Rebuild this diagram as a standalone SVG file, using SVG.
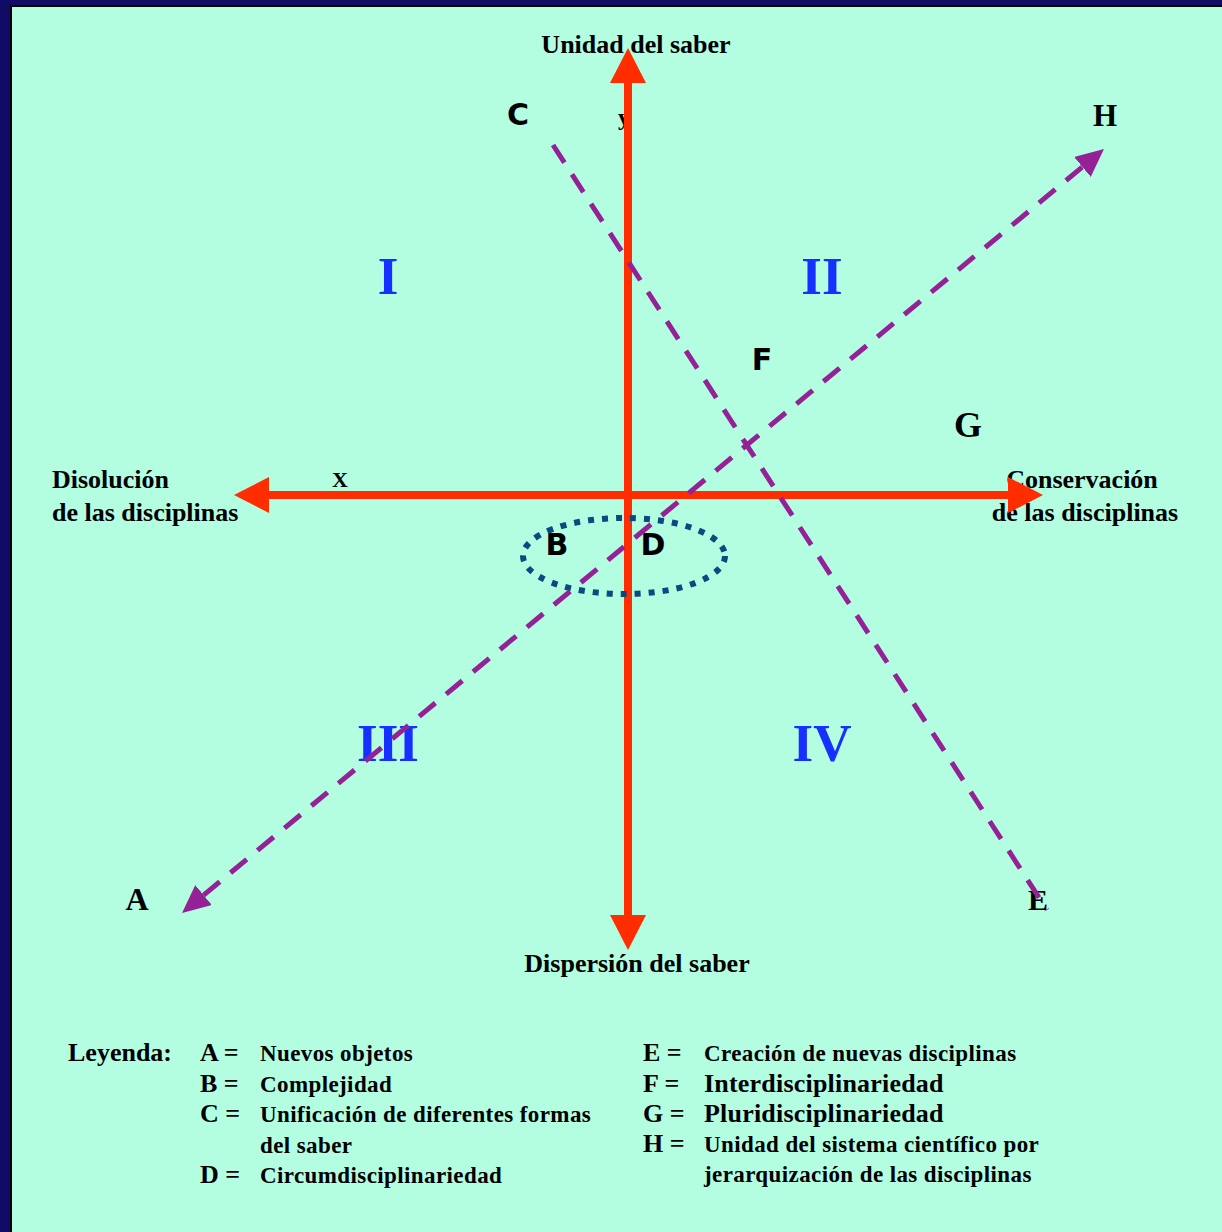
<svg xmlns="http://www.w3.org/2000/svg" width="1222" height="1232" viewBox="0 0 1222 1232">
<defs>
<style>
.lab{font-family:"Liberation Serif","Times New Roman",serif;font-weight:bold;fill:#000}
.ax{font-size:26px}
.leg{font-size:23px;letter-spacing:0.4px}
.key{font-size:26px}
.legb{font-size:26px;letter-spacing:0.2px}
.sans{font-family:"DejaVu Sans",Verdana,sans-serif;font-weight:bold;font-size:30px;fill:#000}
.ser{font-family:"Liberation Serif","Times New Roman",serif;font-weight:bold;fill:#000}
.roman{font-family:"Liberation Serif","Times New Roman",serif;font-weight:bold;font-size:53px;fill:#1630ff;text-anchor:middle}
.axis{stroke:#ff2d00;stroke-width:8;fill:none}
.dash{stroke:#952196;stroke-width:5;fill:none;stroke-dasharray:21 14}
</style>
<marker id="redArrow" viewBox="0 0 35 36" refX="0" refY="18" markerWidth="35" markerHeight="36" markerUnits="userSpaceOnUse" orient="auto-start-reverse">
<path d="M0,0 L35,18 L0,36 z" fill="#ff2d00"/>
</marker>
<marker id="purpleArrow" viewBox="0 0 28 26" refX="0" refY="13" markerWidth="28" markerHeight="26" markerUnits="userSpaceOnUse" orient="auto-start-reverse">
<path d="M0,0 L28,13 L0,26 z" fill="#952196"/>
</marker>
</defs>
<rect x="0" y="0" width="1222" height="1232" fill="#100c66"/>
<rect x="10" y="5" width="1212" height="1227" fill="#000"/>
<rect x="12" y="7" width="1210" height="1225" fill="#b3fde0"/>

<g id="axis-labels">
<text class="lab ax" x="636" y="53" text-anchor="middle">Unidad del saber</text>
<text class="lab ax" x="637" y="972" text-anchor="middle">Dispersión del saber</text>
<text class="lab ax" x="52" y="488">Disolución</text>
<text class="lab ax" x="52" y="521">de las disciplinas</text>
<text class="lab ax" x="1082" y="488" text-anchor="middle">Conservación</text>
<text class="lab ax" x="1085" y="521" text-anchor="middle">de las disciplinas</text>
<text class="lab" x="340" y="487" font-size="22" text-anchor="middle">X</text>
<text class="lab" x="624" y="125" font-size="24" text-anchor="middle">y</text>
</g>

<g id="quadrants">
<text class="roman" x="388" y="294">I</text>
<text class="roman" x="822" y="294">II</text>
<text class="roman" x="388" y="761">III</text>
<text class="roman" x="822" y="761">IV</text>
</g>

<g id="points">
<text id="pA" class="ser" x="137" y="910" font-size="32" text-anchor="middle">A</text>
<text id="pB" class="sans" x="557" y="555" text-anchor="middle">B</text>
<text id="pC" class="sans" x="518" y="125" text-anchor="middle">C</text>
<text id="pD" class="sans" x="653" y="555" text-anchor="middle">D</text>
<text id="pE" class="ser" x="1038" y="910" font-size="30" text-anchor="middle">E</text>
<text id="pF" class="sans" x="762" y="370" text-anchor="middle">F</text>
<text id="pG" class="ser" x="968" y="437" font-size="36" text-anchor="middle">G</text>
<text id="pH" class="ser" x="1105" y="126" font-size="31" text-anchor="middle">H</text>
</g>

<g id="connectors">
<line class="axis" x1="628" y1="915" x2="628" y2="83" marker-start="url(#redArrow)" marker-end="url(#redArrow)"/>
<line class="axis" x1="269" y1="495" x2="1008" y2="495" marker-start="url(#redArrow)" marker-end="url(#redArrow)"/>
<ellipse id="circum" cx="624" cy="556" rx="101" ry="38" fill="none" stroke="#0b4a80" stroke-width="6" stroke-dasharray="6 8"/>
<line class="dash" x1="553" y1="145" x2="1047" y2="910"/>
<line class="dash" x1="203.6" y1="895.1" x2="1082.4" y2="166.9" marker-start="url(#purpleArrow)" marker-end="url(#purpleArrow)"/>
</g>

<g id="legend">
<text class="lab" x="68" y="1061" font-size="26">Leyenda:</text>
<text class="lab key" x="200" y="1061">A =</text>
<text class="lab leg" x="260" y="1061">Nuevos objetos</text>
<text class="lab key" x="200" y="1092">B =</text>
<text class="lab leg" x="260" y="1092">Complejidad</text>
<text class="lab key" x="200" y="1122">C =</text>
<text class="lab leg" x="260" y="1122">Unificación de diferentes formas</text>
<text class="lab leg" x="260" y="1153">del saber</text>
<text class="lab key" x="200" y="1183">D =</text>
<text class="lab leg" x="260" y="1183">Circumdisciplinariedad</text>
<text class="lab key" x="643" y="1061">E =</text>
<text class="lab leg" x="704" y="1061" letter-spacing="0.1">Creación de nuevas disciplinas</text>
<text class="lab key" x="643" y="1092">F =</text>
<text class="lab legb" x="704" y="1092">Interdisciplinariedad</text>
<text class="lab key" x="643" y="1122">G =</text>
<text class="lab legb" x="704" y="1122">Pluridisciplinariedad</text>
<text class="lab key" x="643" y="1152">H =</text>
<text class="lab leg" x="704" y="1152" letter-spacing="0.2">Unidad del sistema científico por</text>
<text class="lab leg" x="704" y="1182" letter-spacing="0.2">jerarquización de las disciplinas</text>
</g>
</svg>
